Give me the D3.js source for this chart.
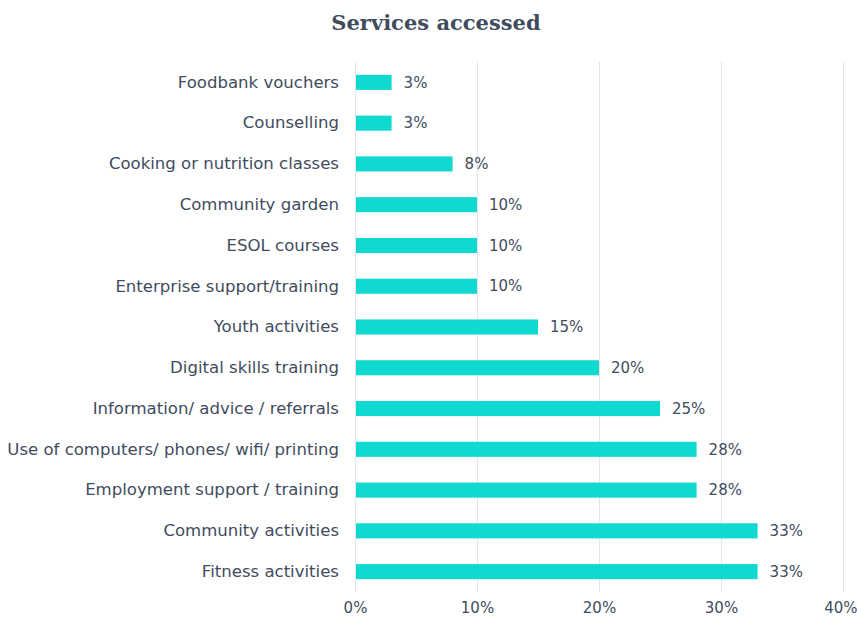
<!DOCTYPE html>
<html>
<head>
<meta charset="utf-8">
<script src="https://cdn.jsdelivr.net/npm/d3@7"></script>
<style>
  html, body { margin: 0; padding: 0; background: #ffffff; }
  svg { display: block; }
</style>
</head>
<body>
<svg id="chart" width="857" height="624"></svg>
<script>
// Share of respondents who used each service (percent)
const categories = [
  "Foodbank vouchers",
  "Counselling",
  "Cooking or nutrition classes",
  "Community garden",
  "ESOL courses",
  "Enterprise support/training",
  "Youth activities",
  "Digital skills training",
  "Information/ advice / referrals",
  "Use of computers/ phones/ wifi/ printing",
  "Employment support / training",
  "Community activities",
  "Fitness activities"
];
const values = [3, 3, 8, 10, 10, 10, 15, 20, 25, 28, 28, 33, 33];
const tickValues = [0, 10, 20, 30, 40];
const titleText = "Services accessed";

const data = categories.map((c, i) => ({ category: c, value: values[i] }));

const width = 857, height = 624;
const margin = { top: 62, right: 14, bottom: 32, left: 355 };
const textColor = "#3f4c5e";
const barColor = "#10d9cf";
const gridColor = "#dfe4ee";
const labelFont = "'DejaVu Sans', sans-serif";
const labelSize = 15;

const svg = d3.select("#chart");

const x = d3.scaleLinear()
  .domain([0, 40])
  .range([margin.left, margin.left + 488]);

const y = d3.scaleBand()
  .domain(categories)
  .range([margin.top, height - margin.bottom])
  .paddingInner(0.63)
  .paddingOuter(0.315);

// Title
svg.append("text")
  .attr("x", 436)
  .attr("y", 30)
  .attr("text-anchor", "middle")
  .attr("font-family", "'DejaVu Serif', serif")
  .attr("font-weight", "bold")
  .attr("font-size", 21)
  .attr("fill", textColor)
  .text(titleText);

// Vertical gridlines
svg.append("g")
  .selectAll("line")
  .data(tickValues)
  .join("line")
  .attr("x1", d => x(d) + 0.5)
  .attr("x2", d => x(d) + 0.5)
  .attr("y1", margin.top)
  .attr("y2", height - margin.bottom)
  .attr("stroke", gridColor)
  .attr("stroke-width", 1);

// Bottom axis labels
const xAxis = d3.axisBottom(x)
  .tickValues(tickValues)
  .tickFormat(d => d + "%")
  .tickSize(0)
  .tickPadding(10);

const gx = svg.append("g")
  .attr("transform", `translate(0,${height - margin.bottom})`)
  .call(xAxis);
gx.select(".domain").remove();
gx.selectAll("text")
  .attr("font-family", labelFont)
  .attr("font-size", labelSize)
  .attr("fill", textColor);
// keep the last tick label inside the frame
gx.selectAll(".tick:last-of-type text").attr("text-anchor", "end").attr("dx", 14);

// Category axis
const yAxis = d3.axisLeft(y).tickSize(0).tickPadding(16);
const gy = svg.append("g")
  .attr("transform", `translate(${margin.left},0)`)
  .call(yAxis);
gy.select(".domain").remove();
gy.selectAll("text")
  .attr("font-family", labelFont)
  .attr("font-size", labelSize)
  .attr("fill", textColor);

// fit the longest category so it starts near the left edge
let longest = 0;
gy.selectAll("text").each(function () { longest = Math.max(longest, this.getComputedTextLength()); });
const fitted = Math.min(17, labelSize * 332 / longest);
gy.selectAll("text").attr("font-size", fitted);

// Bars
svg.append("g")
  .selectAll("rect")
  .data(data)
  .join("rect")
  .attr("x", x(0) + 1)
  .attr("y", d => y(d.category))
  .attr("width", d => x(d.value) - x(0) - 1)
  .attr("height", y.bandwidth())
  .attr("fill", barColor);

// Value labels
svg.append("g")
  .selectAll("text")
  .data(data)
  .join("text")
  .attr("x", d => x(d.value) + 12)
  .attr("y", d => y(d.category) + y.bandwidth() / 2)
  .attr("dy", "0.35em")
  .attr("font-family", labelFont)
  .attr("font-size", labelSize)
  .attr("fill", textColor)
  .text(d => d.value + "%");
</script>
</body>
</html>
